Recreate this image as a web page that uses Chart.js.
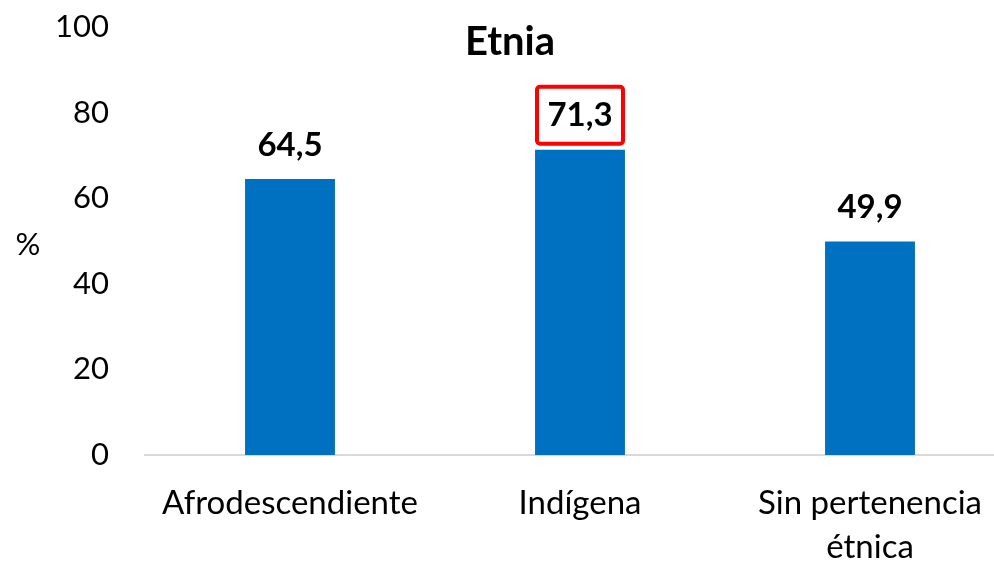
<!DOCTYPE html>
<html>
<head>
<meta charset="utf-8">
<script src="https://cdn.jsdelivr.net/npm/chart.js@4"></script>
<style>
  html, body { margin: 0; padding: 0; background: #fff; overflow: hidden; }
  #wrap { width: 1020px; height: 562px; }
</style>
</head>
<body>
<div id="wrap"><canvas id="chart" width="1020" height="562"></canvas></div>
<script>
const categories = ["Afrodescendiente", "Indígena", ["Sin pertenencia", "étnica"]];
const values = [64.5, 71.3, 49.9];
const valueLabels = ["64,5", "71,3", "49,9"];
const highlightIndex = 1;
const yTicks = [0, 20, 40, 60, 80, 100];

const FONT = "Lato, 'Open Sans', sans-serif";

// title, "%" label, bar values and the red box
const annotations = {
  id: 'annotations',
  afterDatasetsDraw(chart) {
    const ctx = chart.ctx;
    const meta = chart.getDatasetMeta(0);
    ctx.save();
    ctx.fillStyle = '#000';
    ctx.textAlign = 'center';
    ctx.textBaseline = 'middle';
    ctx.font = "bold 40px " + FONT;
    ctx.fillText("Etnia", 510, 42);

    ctx.font = "31px " + FONT;
    ctx.fillText("%", 28, 245);

    ctx.font = "bold 33px " + FONT;
    meta.data.forEach((bar, i) => {
      ctx.fillStyle = '#000';
      ctx.fillText(valueLabels[i], bar.x, bar.y - 34);
      if (i === highlightIndex) {
        ctx.strokeStyle = '#FF0000';
        ctx.lineWidth = 4;
        ctx.beginPath();
        ctx.roundRect(bar.x - 43, bar.y - 63, 86, 57, 3);
        ctx.stroke();
      }
    });
    ctx.restore();
  }
};

new Chart(document.getElementById('chart'), {
  type: 'bar',
  data: {
    labels: categories,
    datasets: [{
      data: values,
      backgroundColor: '#0070C0',
      categoryPercentage: 1,
      barPercentage: 0.31
    }]
  },
  options: {
    responsive: false,
    animation: false,
    layout: { padding: { top: 27, right: 5, left: 0, bottom: 0 } },
    plugins: {
      legend: { display: false },
      tooltip: { enabled: false }
    },
    scales: {
      x: {
        grid: { display: false, drawTicks: false },
        border: { color: '#D9D9D9', width: 2 },
        ticks: {
          color: '#000',
          font: { family: FONT, size: 33, lineHeight: 1.35 },
          padding: 26,
          maxRotation: 0,
          autoSkip: false
        },
        afterFit(scale) {
          scale.height = 107;
          scale.paddingTop = 0;
          scale.paddingBottom = 0;
        }
      },
      y: {
        min: 0,
        max: 100,
        afterBuildTicks(scale) { scale.ticks = yTicks.map(v => ({ value: v })); },
        grid: { display: false, drawTicks: false },
        border: { display: false },
        ticks: {
          color: '#000',
          font: { family: FONT, size: 31 },
          padding: 36
        },
        afterFit(scale) {
          scale.width = 145;
          scale.paddingTop = 0;
          scale.paddingBottom = 0;
        }
      }
    }
  },
  plugins: [annotations]
});
</script>
</body>
</html>
